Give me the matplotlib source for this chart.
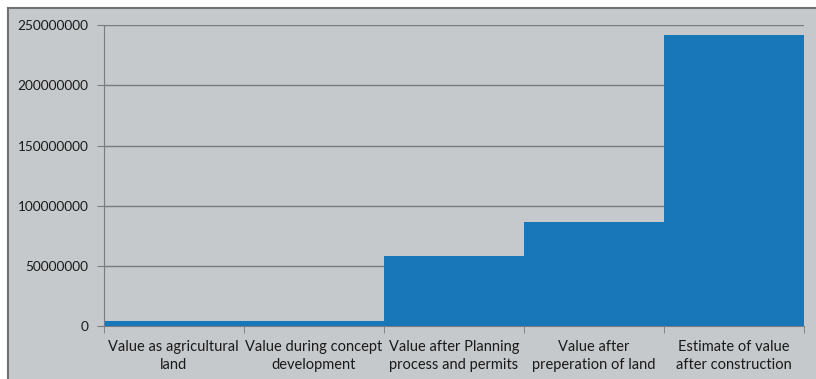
#!/usr/bin/env python3
"""
Land value development steps (bar chart)
"""

import matplotlib
matplotlib.use("Agg")
import matplotlib.pyplot as plt
from matplotlib.lines import Line2D
from matplotlib.ticker import FuncFormatter, FixedLocator
import numpy as np

# Data
categories = [
    "Value as agricultural\nland",
    "Value during concept\ndevelopment",
    "Value after Planning\nprocess and permits",
    "Value after\npreperation of land",
    "Estimate of value\nafter construction",
]
values = [4500000, 4500000, 58200000, 86100000, 241700000]
y_ticks = [0, 50000000, 100000000, 150000000, 200000000, 250000000]

BG = "#c5c9cc"
BAR = "#1777b8"
GRID = "#787c80"

W, H = 816, 379
fig = plt.figure(figsize=(W / 100, H / 100), dpi=100)
fig.patch.set_facecolor("white")

# grey chart area with a border on top/left (cropped at right/bottom)
fig.patches.append(plt.Rectangle((8 / W, 0), 1, 1 - 8 / H, transform=fig.transFigure,
                                 facecolor=BG, edgecolor="none", zorder=-10))
fig.lines.append(Line2D([8 / W, 8 / W], [0, 1 - 8 / H], transform=fig.transFigure,
                        color="#6e7276", linewidth=1.5))
fig.lines.append(Line2D([8 / W, 1], [1 - 8 / H, 1 - 8 / H], transform=fig.transFigure,
                        color="#6e7276", linewidth=1.5))

left, right, top, bottom = 103.7, 804.3, 25.3, 326
ax = fig.add_axes([left / W, 1 - bottom / H, (right - left) / W, (bottom - top) / H])
ax.set_facecolor(BG)

x = np.arange(len(categories))
ax.bar(x, values, width=1.0, color=BAR, edgecolor="none", linewidth=0, zorder=3)

ax.set_xlim(-0.5, len(categories) - 0.5)
ax.set_ylim(0, 250000000)

ax.set_yticks(y_ticks)
ax.yaxis.set_major_formatter(FuncFormatter(lambda v, p: f"{int(v)}"))
ax.grid(True, axis="y", color=GRID, linewidth=1.0, zorder=0)

ax.set_xticks(x)
ax.set_xticklabels(categories, fontsize=10.5, family="Lato", color="#1a1a1a", linespacing=1.4)
ax.xaxis.set_minor_locator(FixedLocator(np.arange(-0.5, len(categories), 1.0)))
ax.tick_params(axis="x", which="major", length=0, pad=10)
ax.tick_params(axis="x", which="minor", length=5, color=GRID, direction="out")
ax.tick_params(axis="y", length=5, color=GRID, direction="out", labelsize=9.8, pad=6)
for lbl in ax.get_yticklabels():
    lbl.set_family("Lato")
    lbl.set_color("#1a1a1a")

for side in ["top", "right"]:
    ax.spines[side].set_visible(False)
ax.spines["left"].set_color(GRID)
ax.spines["bottom"].set_color(GRID)
ax.spines["left"].set_zorder(4)

plt.savefig("out.png", dpi=100, facecolor=fig.get_facecolor())
